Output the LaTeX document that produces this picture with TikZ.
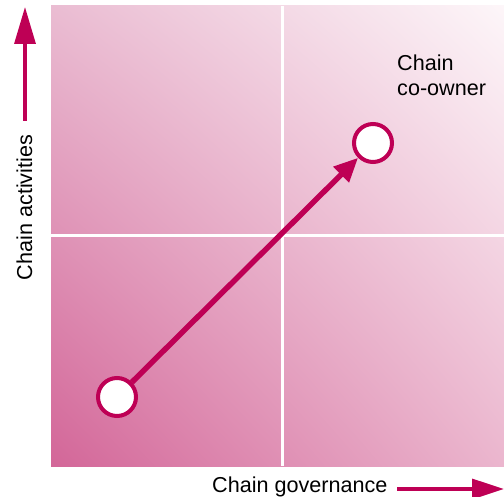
\documentclass[tikz,border=0pt]{standalone}
\usepackage{fontspec}
\setmainfont{Liberation Sans}
\usetikzlibrary{arrows.meta,shadings}
\definecolor{crim}{RGB}{190,0,85}
\definecolor{cLL}{RGB}{211,102,152}
\definecolor{cUL}{RGB}{234,188,210}
\definecolor{cUR}{RGB}{253,246,249}
\definecolor{cLR}{RGB}{235,182,206}
\tikzset{
  lbl/.style={font=\fontsize{21.6}{25.5}\selectfont, text=black, inner sep=0pt},
  ring/.style={circle, draw=crim, fill=white, line width=4pt, minimum size=38pt, inner sep=0pt},
  divider/.style={draw=white, line width=3pt},
  axisarrow/.style={draw=crim, line width=3.3pt, -{Triangle[length=37pt,width=21pt]}},
  mainarrow/.style={draw=crim, line width=5.5pt, -{Triangle[length=24pt,width=21pt]}}
}
\begin{document}
\begin{tikzpicture}[x=1pt,y=-1pt]
\useasboundingbox (0,0) rectangle (504,497);
\shade[lower left=cLL, upper left=cUL, upper right=cUR, lower right=cLR] (51,6) rectangle (504,466);
\coordinate (vt) at (282,6);
\coordinate (vb) at (282,466);
\coordinate (hl) at (51,235.5);
\coordinate (hr) at (504,235.5);
\draw[divider] (vt) -- (vb);
\draw[divider] (hl) -- (hr);
% axes
\coordinate (ya) at (25,121);
\coordinate (yb) at (25,7);
\draw[axisarrow] (ya) -- (yb);
\coordinate (xa) at (397,489);
\coordinate (xb) at (504,489);
\draw[draw=crim, line width=3.3pt, -{Triangle[length=32pt,width=20pt]}] (xa) -- (xb);
\node[lbl, rotate=90, anchor=base] (ylab) at (32,207.5) {Chain activities};
\node[lbl, anchor=base west] (xlab) at (212,493) {Chain governance};
% circles
\node[ring] (start) at (117,397) {};
\node[ring] (owner) at (373,143) {};
\draw[mainarrow] (start) -- (owner);
\node[lbl, anchor=base west, align=left] (olab) at (397,96) {Chain\\co-owner};
\end{tikzpicture}
\end{document}
